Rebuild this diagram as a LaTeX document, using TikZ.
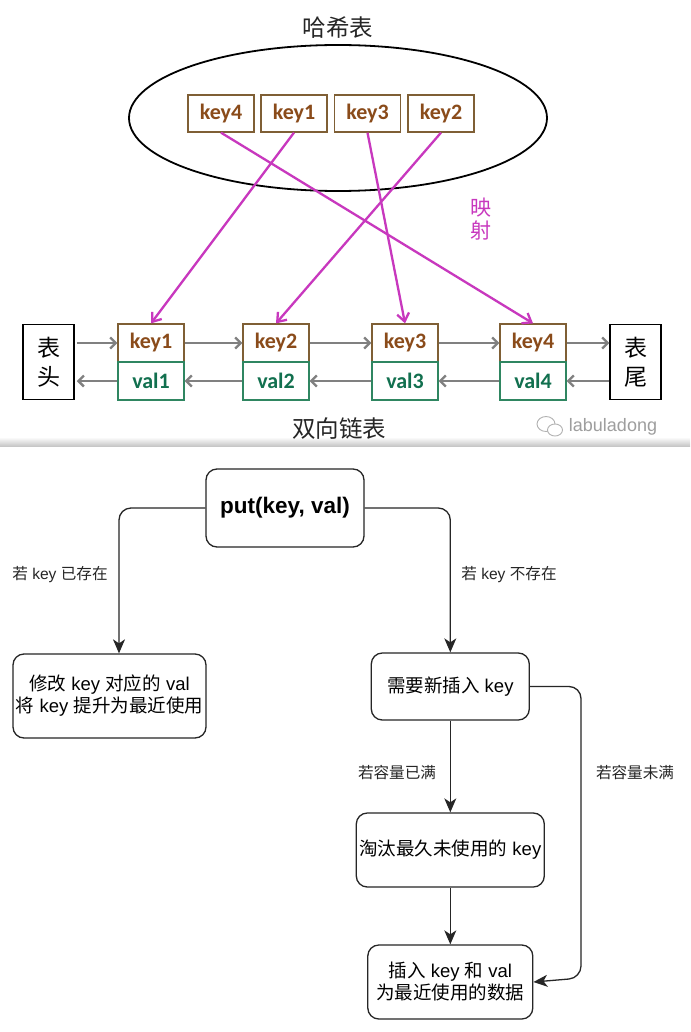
\documentclass[tikz,border=0pt]{standalone}
\usepackage{fontspec}
\setmainfont{Liberation Sans}
\newfontfamily\cjk{Noto Sans CJK SC}
\newfontfamily\keyfont{Carlito}
\usetikzlibrary{arrows.meta,shapes.geometric}
\definecolor{magline}{HTML}{C838BE}
\definecolor{keytxt}{HTML}{8A4B1A}
\definecolor{keybd}{HTML}{7F5F35}
\definecolor{valtxt}{HTML}{12704F}
\definecolor{valbd}{HTML}{2F8661}
\definecolor{gline}{HTML}{808080}
\newcommand{\lowered}[1]{\raisebox{-2pt}{#1}}
\tikzset{
  hkey/.style={draw=keybd,line width=1.3pt,fill=white,minimum width=66pt,minimum height=37pt,inner sep=0pt,text=keytxt,font=\keyfont\bfseries\fontsize{22}{24}\selectfont},
  lkey/.style={hkey,minimum height=38pt},
  lval/.style={draw=valbd,line width=1.3pt,fill=white,minimum width=66pt,minimum height=38pt,inner sep=0pt,text=valtxt,font=\keyfont\bfseries\fontsize{22}{24}\selectfont},
  endbox/.style={draw=black,line width=1.5pt,fill=white,minimum width=51pt,minimum height=75pt,inner sep=0pt,align=center,font=\cjk\fontsize{23}{29}\selectfont},
  title/.style={inner sep=0pt,font=\cjk\fontsize{23.5}{25}\selectfont,text=black!85},
  magarrow/.style={draw=magline,line width=2.3pt,-{Straight Barb[length=8pt,width=12pt,line width=2.3pt]}},
  garrow/.style={draw=gline,line width=2.3pt,-{Straight Barb[length=5.5pt,width=11pt,line width=2.3pt]}},
  flow/.style={draw=black!85,line width=1.3pt,rounded corners=12pt,-{Stealth[length=14pt,width=12pt,inset=4pt]}},
  fbox/.style={draw=black!85,line width=1.3pt,rounded corners=11pt,fill=white,inner sep=0pt,align=center,font=\fontsize{18.5}{22}\selectfont},
  flabel/.style={inner sep=0pt,font=\fontsize{15.6}{17}\selectfont,text=black!85},
}
\begin{document}
\begin{tikzpicture}[x=1pt,y=-1pt]
\useasboundingbox (0,0) rectangle (690,1032);
\fill[white] (0,0) rectangle (690,1032);
\shade[top color=white,bottom color=black!22] (0,437) rectangle (690,446);
% hash table
\node[title] (htitle) at (338,28) {哈希表};
\node[draw=black,line width=1.8pt,ellipse,minimum width=418pt,minimum height=146pt,inner sep=0pt] (hash) at (338,118) {};
\node[hkey] (h4) at (221,113.5) {key4};
\node[hkey] (h1) at (294,113.5) {key1};
\node[hkey] (h3) at (367.5,113.5) {key3};
\node[hkey] (h2) at (441,113.5) {key2};
\node[inner sep=0pt,text=magline,align=center,font=\cjk\fontsize{21}{23.5}\selectfont] (map) at (481,219) {映\\射};
% list
\node[endbox] (hd) at (48.5,362) {表\\头};
\node[endbox] (tl) at (635.5,362) {表\\尾};
\node[lkey] (k1) at (151,343) {key1};
\node[lkey] (k2) at (276,343) {key2};
\node[lkey] (k3) at (405,343) {key3};
\node[lkey] (k4) at (533,343) {key4};
\node[lval] (v1) at (151,381) {val1};
\node[lval] (v2) at (276,381) {val2};
\node[lval] (v3) at (405,381) {val3};
\node[lval] (v4) at (533,381) {val4};
\node[title] (ltitle) at (339,429) {双向链表};
% watermark
\node[inner sep=0pt,text=black!38,font=\fontsize{18}{20}\selectfont] (wm) at (613,427) {labuladong};
\draw[black!30,line width=0.9pt] (546,424) ellipse (9pt and 7.5pt);
\draw[black!30,line width=0.9pt,fill=white] (555,430) ellipse (7.5pt and 6pt);
% magenta mapping arrows
\draw[magarrow] (h4.south) -- (k4.north);
\draw[magarrow] (h1.south) -- (k1.north);
\draw[magarrow] (h3.south) -- (k3.north);
\draw[magarrow] (h2.south) -- (k2.north);
% list arrows
\draw[garrow] ([yshift=19pt,xshift=2pt]hd.east) -- (k1.west);
\draw[garrow] (k1.east) -- (k2.west);
\draw[garrow] (k2.east) -- (k3.west);
\draw[garrow] (k3.east) -- (k4.west);
\draw[garrow] (k4.east) -- ([yshift=19pt]tl.west);
\draw[garrow] ([yshift=-19pt]tl.west) -- (v4.east);
\draw[garrow] (v4.west) -- (v3.east);
\draw[garrow] (v3.west) -- (v2.east);
\draw[garrow] (v2.west) -- (v1.east);
\draw[garrow] (v1.west) -- ([yshift=-19pt,xshift=2pt]hd.east);
% flow chart
\node[fbox,minimum width=158pt,minimum height=78pt,font=\bfseries\fontsize{22.5}{26}\selectfont] (root) at (285,508) {\lowered{put(key, val)}};
\node[fbox,minimum width=193pt,minimum height=84pt] (mod) at (109.5,696) {\lowered{{\cjk 修改} key {\cjk 对应的} val}\\\lowered{{\cjk 将} key {\cjk 提升为最近使用}}};
\node[fbox,minimum width=158pt,minimum height=67pt] (need) at (450.3,686.5) {\lowered{{\cjk 需要新插入} key}};
\node[fbox,minimum width=188pt,minimum height=74pt] (evict) at (450.3,850) {\lowered{{\cjk 淘汰最久未使用的} key}};
\node[fbox,minimum width=165pt,minimum height=74pt] (ins) at (450.3,982) {\lowered{{\cjk 插入} key {\cjk 和} val}\\\lowered{{\cjk 为最近使用的数据}}};
\coordinate (bendA) at (581,686.5);
\coordinate (bendB) at (581,978);
\draw[flow] (root.west) -| ([xshift=9.5pt]mod.north);
\draw[flow] (root.east) -| (need.north);
\draw[flow] (need.south) -- (evict.north);
\draw[flow] (evict.south) -- (ins.north);
\draw[flow] (need.east) -- (bendA) -- (bendB) -- (ins.east);
\node[flabel] (l1) at (60,575) {{\cjk 若} key {\cjk 已存在}};
\node[flabel] (l2) at (509,575) {{\cjk 若} key {\cjk 不存在}};
\node[flabel] (l3) at (397,773) {\cjk 若容量已满};
\node[flabel] (l4) at (635,773) {\cjk 若容量未满};
\end{tikzpicture}
\end{document}
